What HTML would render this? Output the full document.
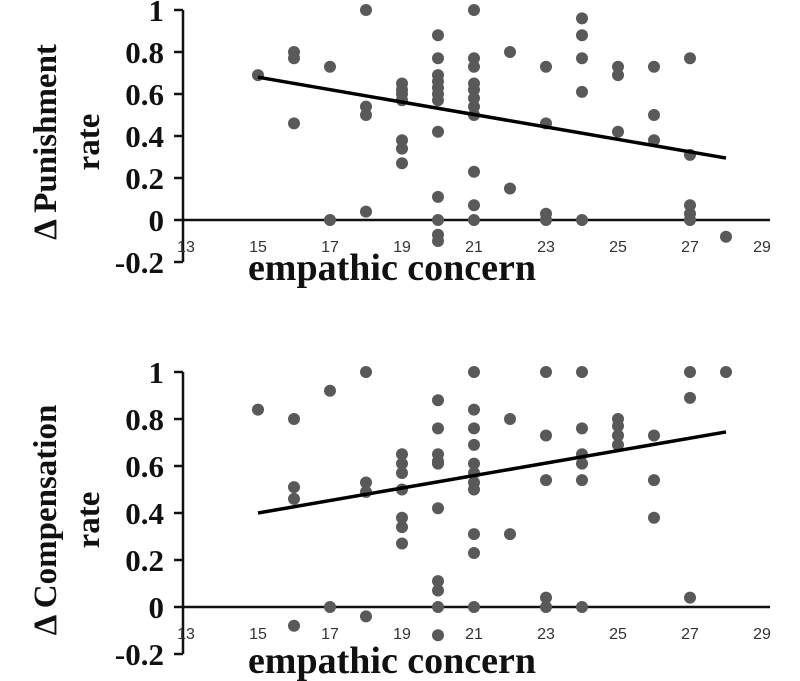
<!DOCTYPE html>
<html><head><meta charset="utf-8"><style>
html,body{margin:0;padding:0;background:#fff;}
svg{display:block;}
.yt{font-family:"Liberation Serif",serif;font-weight:bold;font-size:31px;fill:#111;}
.xt{font-family:"Liberation Sans",sans-serif;font-size:16px;fill:#333;}
.tt{font-family:"Liberation Serif",serif;font-weight:bold;font-size:38px;fill:#111;}
.yl{font-family:"Liberation Serif",serif;font-weight:bold;font-size:33px;fill:#111;}
</style></head><body>
<svg id="chart" width="800" height="681" viewBox="0 0 800 681"></svg>
<script>
const xTicks=[13,15,17,19,21,23,25,27,29];
const yTicks=[-0.2,0,0.2,0.4,0.6,0.8,1];
const yTickLabels=["-0.2","0","0.2","0.4","0.6","0.8","1"];
const punX=[15,16,16,16,17,17,18,18,18,18,19,19,19,19,19,19,19,20,20,20,20,20,20,20,20,20,20,20,20,21,21,21,21,21,21,21,21,21,21,21,22,22,23,23,23,23,24,24,24,24,24,25,25,25,26,26,26,27,27,27,27,27,28];
const punY=[0.69,0.80,0.77,0.46,0.73,0,1,0.54,0.50,0.04,0.65,0.62,0.60,0.57,0.38,0.34,0.27,0.88,0.77,0.69,0.66,0.63,0.60,0.57,0.42,0.11,0,-0.07,-0.10,1,0.77,0.73,0.65,0.62,0.58,0.54,0.50,0.23,0.07,0,0.80,0.15,0.73,0.46,0.03,0,0.96,0.88,0.77,0.61,0,0.73,0.69,0.42,0.73,0.50,0.38,0.77,0.31,0.07,0.03,0,-0.08];
const punTrend=[[15,0.68],[28,0.295]];
const comX=[15,16,16,16,16,17,17,18,18,18,18,19,19,19,19,19,19,19,20,20,20,20,20,20,20,20,20,20,21,21,21,21,21,21,21,21,21,21,21,22,22,23,23,23,23,23,24,24,24,24,24,24,25,25,25,25,26,26,26,27,27,27,28];
const comY=[0.84,0.80,0.51,0.46,-0.08,0.92,0,1,0.53,0.49,-0.04,0.65,0.61,0.57,0.50,0.38,0.34,0.27,0.88,0.76,0.65,0.62,0.61,0.42,0.11,0.07,0,-0.12,1,0.84,0.76,0.69,0.61,0.57,0.53,0.50,0.31,0.23,0,0.80,0.31,1,0.73,0.54,0.04,0,1,0.76,0.65,0.61,0.54,0,0.80,0.77,0.73,0.69,0.73,0.54,0.38,1,0.89,0.04,1];
const comTrend=[[15,0.40],[28,0.745]];

const svg=document.getElementById('chart');
const NS='http://www.w3.org/2000/svg';
function mk(tag,attrs,parent){const e=document.createElementNS(NS,tag);for(const k in attrs)e.setAttribute(k,attrs[k]);parent.appendChild(e);return e;}

function panel(name,y1,y0,xs,ys,trend,lab1,lab2,labCY,titleY){
  const g=mk('g',{},svg);
  
  
  const sx=v=>186+(v-13)*36;
  const sy=v=>y0-(v)*(y0-y1);
  const axX=183;
  const ya=mk('line',{x1:axX,x2:axX,y1:sy(1),y2:sy(-0.2),stroke:'#111','stroke-width':2.5},g);
  
  
  const xa=mk('line',{x1:axX,x2:sx(29)+8,y1:sy(0),y2:sy(0),stroke:'#111','stroke-width':2.5},g);
  
  
  yTicks.forEach((t,i)=>{
    mk('line',{x1:axX-9,x2:axX,y1:sy(t),y2:sy(t),stroke:'#111','stroke-width':2.5},g);
    const tx=mk('text',{x:164,y:sy(t)+11,'text-anchor':'end',class:'yt'},g);
    tx.textContent=yTickLabels[i];
    
    
  });
  xTicks.forEach(t=>{
    const tx=mk('text',{x:sx(t),y:sy(0)+32,'text-anchor':'middle',class:'xt'},g);
    tx.textContent=t;
    
    
  });
  xs.forEach((x,i)=>{
    const c=mk('circle',{cx:sx(x),cy:sy(ys[i]),r:6,fill:'#595959'},g);
    
    
  });
  const tl=mk('line',{x1:sx(trend[0][0]),y1:sy(trend[0][1]),x2:sx(trend[1][0]),y2:sy(trend[1][1]),stroke:'#000','stroke-width':3.5},g);
  
  
  const xt=mk('text',{x:392,y:titleY,'text-anchor':'middle',class:'tt'},g);
  xt.textContent='empathic concern';
  
  
  const l1=mk('text',{x:0,y:0,'text-anchor':'middle',class:'yl',transform:`translate(56,${labCY}) rotate(-90)`},g);
  l1.textContent=lab1;
  
  
  const l2=mk('text',{x:0,y:0,'text-anchor':'middle',class:'yl',transform:`translate(99,${labCY}) rotate(-90)`},g);
  l2.textContent=lab2;
  
  
}
panel('punishment-chart',10,220,punX,punY,punTrend,'Δ Punishment','rate',142,280);
panel('compensation-chart',372,607,comX,comY,comTrend,'Δ Compensation','rate',520,673);
</script>
</body></html>
